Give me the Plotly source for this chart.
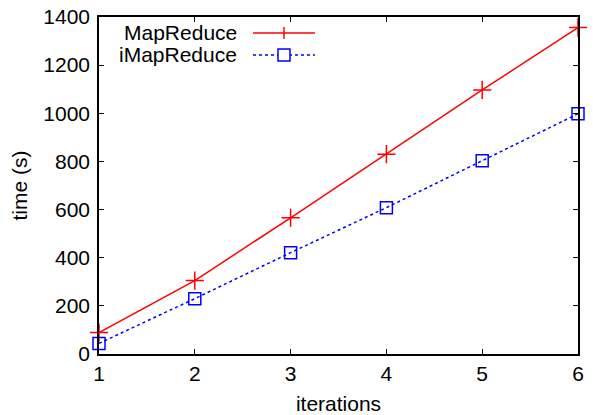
import plotly.graph_objects as go

iterations = [1, 2, 3, 4, 5, 6]
mapreduce = [89, 305, 566, 830, 1097, 1356]
imapreduce = [44, 230, 421, 608, 803, 998]
series_names = ["MapReduce", "iMapReduce"]
y_ticks = [0, 200, 400, 600, 800, 1000, 1200, 1400]

RED = "#ff0000"
BLUE = "#0000ff"
FONT = "Liberation Sans, Arial, Helvetica, sans-serif"
FS = 21

fig = go.Figure()
fig.add_trace(go.Scatter(
    x=iterations, y=mapreduce, name=series_names[0], mode="lines+markers",
    line=dict(color=RED, width=1.5),
    marker=dict(symbol="cross-thin", size=13, line=dict(color=RED, width=1.5)),
    showlegend=False, cliponaxis=False))
fig.add_trace(go.Scatter(
    x=iterations, y=imapreduce, name=series_names[1], mode="lines+markers",
    line=dict(color=BLUE, width=1.5, dash="dot"),
    marker=dict(symbol="square-open", size=12, color=BLUE, line=dict(color=BLUE, width=1.5)),
    showlegend=False, cliponaxis=False))

axis_common = dict(
    showline=True, linecolor="black", linewidth=1.5, mirror="ticks",
    ticks="inside", ticklen=5, tickcolor="black", tickwidth=1,
    showgrid=False, zeroline=False, automargin=False,
    tickfont=dict(family=FONT, size=FS, color="black"),
)
fig.update_xaxes(range=[1, 6], tickvals=iterations, ticklabelstandoff=0,
                 title=dict(text="iterations", font=dict(family=FONT, size=FS, color="black"), standoff=14),
                 **axis_common)
fig.update_yaxes(range=[0, 1400], tickvals=y_ticks, ticklabelstandoff=3,
                 title=dict(text="time (s)", font=dict(family=FONT, size=FS, color="black"), standoff=10),
                 **axis_common)

# gnuplot-style legend: label on the left, sample on the right
legend_rows = [(0.9526, RED, "solid", "plus"), (0.8875, BLUE, "dot", "square")]
shapes = []
annotations = []
for name, (yp, col, dash, sym) in zip(series_names, legend_rows):
    annotations.append(dict(x=0.2923, y=yp, xref="paper", yref="paper", text=name,
                            showarrow=False, xanchor="right", yanchor="middle",
                            font=dict(family=FONT, size=FS, color="black")))
    shapes.append(dict(type="line", xref="paper", yref="paper", x0=0.3215, x1=0.4509,
                       y0=yp, y1=yp, line=dict(color=col, width=1.5, dash=dash)))
    if sym == "plus":
        shapes.append(dict(type="line", xref="paper", yref="paper", xsizemode="pixel", ysizemode="pixel",
                           xanchor=0.3862, yanchor=yp, x0=0, x1=0, y0=-6, y1=6,
                           line=dict(color=col, width=1.5)))
    else:
        shapes.append(dict(type="rect", xref="paper", yref="paper", xsizemode="pixel", ysizemode="pixel",
                           xanchor=0.3862, yanchor=yp, x0=-6, x1=6, y0=-6, y1=6,
                           line=dict(color=col, width=1.5), fillcolor="white"))

fig.update_layout(
    width=593, height=415,
    margin=dict(l=99, r=15, t=17, b=61),
    paper_bgcolor="white", plot_bgcolor="white",
    shapes=shapes, annotations=annotations,
    font=dict(family=FONT, size=FS, color="black"),
)
fig.write_html("out.html")
